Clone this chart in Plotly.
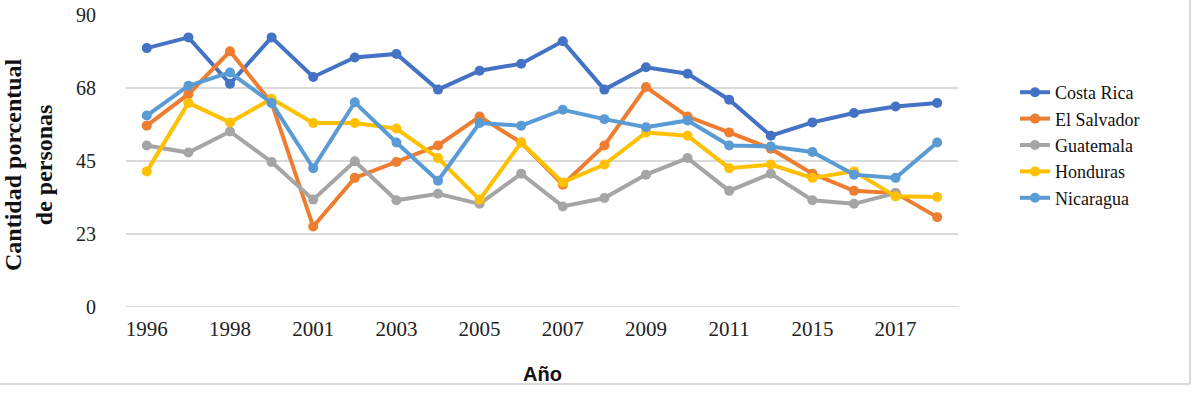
import plotly.graph_objects as go

years = ["1996", "1997", "1998", "2000", "2001", "2002", "2003", "2004", "2005", "2006",
         "2007", "2008", "2009", "2010", "2011", "2013", "2015", "2016", "2017", "2018"]
tick_years = ["1996", "1998", "2001", "2003", "2005", "2007", "2009", "2011", "2015", "2017"]

costa_rica = [79.8, 83.1, 68.8, 83.1, 70.9, 76.9, 78.0, 67.0, 72.8, 75.0,
              81.9, 67.0, 73.9, 71.9, 63.9, 52.8, 56.9, 59.8, 61.8, 62.9]
el_salvador = [55.9, 65.6, 78.8, 62.9, 24.8, 39.8, 44.7, 49.8, 58.7, 50.7,
               37.7, 49.8, 67.8, 58.7, 53.8, 48.8, 41.1, 35.8, 35.1, 27.7]
guatemala = [49.8, 47.6, 54.1, 44.7, 33.1, 44.9, 32.9, 34.9, 31.8, 41.1,
             31.0, 33.6, 40.8, 45.9, 35.8, 41.1, 32.9, 31.8, 35.1, None]
honduras = [41.8, 62.9, 56.9, 64.2, 56.7, 56.7, 55.0, 45.9, 33.1, 50.7,
            38.4, 43.9, 53.8, 52.8, 42.8, 43.9, 39.8, 41.8, 34.1, 33.9]
nicaragua = [59.0, 68.2, 72.3, 62.9, 42.8, 63.1, 50.7, 38.9, 56.7, 55.9,
             60.8, 57.9, 55.4, 57.5, 49.8, 49.5, 47.8, 40.8, 39.8, 50.7]

y_tickvals = [0, 22.5, 45, 67.5, 90]
y_ticktext = ["0", "23", "45", "68", "90"]

series = [
    ("Costa Rica", costa_rica, "#4472C4"),
    ("El Salvador", el_salvador, "#ED7D31"),
    ("Guatemala", guatemala, "#A5A5A5"),
    ("Honduras", honduras, "#FFC000"),
    ("Nicaragua", nicaragua, "#5B9BD5"),
]

fig = go.Figure()
for name, vals, color in series:
    fig.add_trace(go.Scatter(
        x=years, y=vals, name=name, mode="lines+markers",
        line=dict(color=color, width=4),
        marker=dict(color=color, size=10),
    ))

PLOT_L, PLOT_R, PLOT_T, PLOT_B = 126, 958, 15, 307
pw, ph = PLOT_R - PLOT_L, PLOT_B - PLOT_T

def px_x(x):
    return (x - PLOT_L) / pw

def px_y(y):
    return (PLOT_B - y) / ph

fig.update_layout(
    width=1200, height=398,
    margin=dict(l=PLOT_L, r=1200 - PLOT_R, t=PLOT_T, b=398 - PLOT_B),
    paper_bgcolor="white", plot_bgcolor="white",
    font=dict(family="Liberation Serif", color="#222222", size=17),
    showlegend=True,
    legend=dict(x=px_x(1015), y=px_y(74), xanchor="left", yanchor="top",
                font=dict(family="Liberation Serif", size=18, color="#111111"),
                tracegroupgap=0, itemwidth=30, bgcolor="rgba(0,0,0,0)"),
    xaxis=dict(type="category", categoryorder="array", categoryarray=years,
               range=[-0.5, 19.5], tickmode="array", tickvals=tick_years, ticktext=tick_years,
               showgrid=False, zeroline=False, showline=False, ticks="", automargin=False,
               ticklabelstandoff=7,
               tickfont=dict(family="Liberation Serif", size=21, color="#222222")),
    yaxis=dict(range=[0, 90], tickmode="array", tickvals=y_tickvals, ticktext=y_ticktext,
               showgrid=True, gridcolor="#D9D9D9", gridwidth=2, zeroline=False, showline=False,
               ticks="", ticklabelstandoff=29, automargin=False,
               tickfont=dict(family="Liberation Serif", size=20, color="#222222")),
    annotations=[
        dict(text="<b>Cantidad porcentual<br>de personas</b>", xref="paper", yref="paper",
             x=px_x(28), y=px_y(165), xanchor="center", yanchor="middle", textangle=-90,
             showarrow=False, font=dict(family="Liberation Serif", size=24, color="#111111")),
        dict(text="<b>Año</b>", xref="paper", yref="paper",
             x=px_x(542), y=px_y(374), xanchor="center", yanchor="middle",
             showarrow=False, font=dict(family="Liberation Sans", size=20, color="#111111")),
    ],
    shapes=[
        dict(type="line", xref="paper", yref="paper", x0=px_x(0), x1=px_x(1190),
             y0=px_y(384), y1=px_y(384), line=dict(color="#D9D9D9", width=2)),
        dict(type="line", xref="paper", yref="paper", x0=px_x(1190), x1=px_x(1190),
             y0=px_y(384), y1=px_y(0), line=dict(color="#D9D9D9", width=2)),
        dict(type="line", xref="paper", yref="y", x0=0, x1=1, y0=0, y1=0,
             line=dict(color="#D9D9D9", width=2), layer="below"),
    ],
)

fig.write_html("out.html", config={"displayModeBar": False},
               post_script="document.body.style.margin='0px';")
